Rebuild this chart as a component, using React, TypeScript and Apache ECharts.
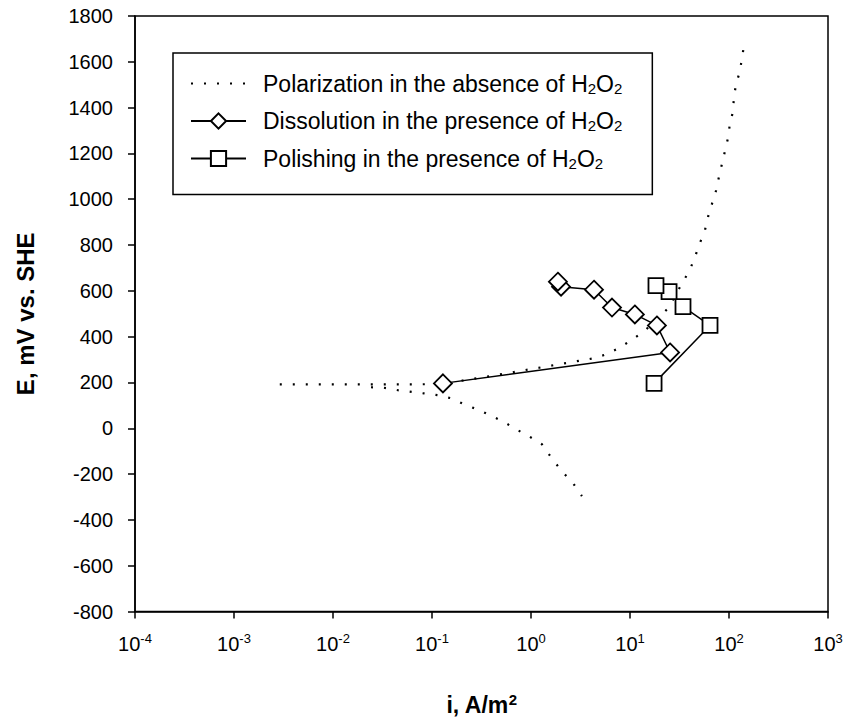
import React, { useEffect, useRef } from "react";
import * as echarts from "echarts";

// Dotted polarization curve, anodic branch (i in A/m2, E in mV vs. SHE)
const polarAnodic: [number, number][] = [
  [0.0029, 192], [0.0096, 192], [0.032, 192], [0.079, 192], [0.129, 194],
  [0.486, 235], [4.23, 305], [5.72, 322], [7.57, 348], [10.2, 383], [14.2, 427],
  [24.2, 523], [34.3, 640], [40.3, 692], [45.4, 749], [51, 810], [57.3, 867],
  [61.4, 923], [67.3, 980], [73.9, 1037], [79.2, 1098], [84.9, 1154], [91.1, 1211],
  [97.7, 1267], [102, 1328], [110, 1385], [112, 1446], [118, 1503], [129, 1559],
  [135, 1616], [142, 1672],
];
// Dotted polarization curve, cathodic branch
const polarCathodic: [number, number][] = [
  [0.0242, 179], [0.0327, 177], [0.0454, 166], [0.083, 152], [0.115, 144],
  [0.156, 131], [0.21, 105], [0.285, 83], [0.385, 57], [0.521, 30], [0.705, -4],
  [0.955, -35], [1.29, -70], [1.59, -126], [2.01, -183], [2.66, -240], [3.27, -296],
];
// Dissolution in the presence of H2O2 (diamonds)
const dissolution: [number, number][] = [
  [0.129, 196], [25.4, 331], [18.7, 449], [11.2, 497], [6.58, 527],
  [4.33, 605], [2.01, 618], [1.87, 640],
];
// Polishing in the presence of H2O2 (squares)
const polishing: [number, number][] = [
  [17.5, 196], [64.3, 449], [34.3, 531], [24.8, 597], [18.3, 623],
];

const yMin = -800;
const yMax = 1800;
const yStep = 200;
const xMin = 1e-4;
const xMax = 1e3;

const NAME_POL = "Polarization in the absence of H2O2";
const NAME_DIS = "Dissolution in the presence of H2O2";
const NAME_POLI = "Polishing in the presence of H2O2";

const legendLabels: Record<string, string> = {
  [NAME_POL]: "{t|Polarization in the absence of H}{s|2}{t|O}{s|2}",
  [NAME_DIS]: "{t|Dissolution in the presence of H}{s|2}{t|O}{s|2}",
  [NAME_POLI]: "{t|Polishing in the presence of H}{s|2}{t|O}{s|2}",
};

const FONT = "'Liberation Sans', Arial, Helvetica, sans-serif";

export default function App() {
  const ref = useRef<HTMLDivElement>(null);
  useEffect(() => {
    if (!ref.current) return;
    const chart = echarts.init(ref.current, undefined, { renderer: "svg" });
    const dotted = {
      color: "#000",
      width: 2.2,
      type: [2, 11] as number[],
      cap: "butt" as const,
    };
    const hiddenSymbol = {
      color: "rgba(0,0,0,0)",
      borderColor: "rgba(0,0,0,0)",
      borderWidth: 0,
    };
    chart.setOption({
      animation: false,
      backgroundColor: "#fff",
      textStyle: { fontFamily: FONT, color: "#000" },
      grid: {
        left: 135,
        right: 21,
        top: 16,
        bottom: 108,
        show: true,
        borderColor: "#000",
        borderWidth: 1.5,
        backgroundColor: "transparent",
      },
      legend: {
        orient: "vertical",
        left: 173,
        top: 53,
        itemWidth: 55,
        itemHeight: 19,
        itemGap: 14,
        padding: [19, 30, 24, 17],
        borderColor: "#000",
        borderWidth: 1.5,
        backgroundColor: "#fff",
        data: [NAME_POL, NAME_DIS, NAME_POLI],
        formatter: (name: string) => legendLabels[name] || name,
        textStyle: {
          fontFamily: FONT,
          color: "#000",
          padding: [0, 0, 0, 12],
          rich: {
            t: { fontSize: 23, lineHeight: 24, fontFamily: FONT, color: "#000" },
            s: {
              fontSize: 15,
              lineHeight: 14,
              verticalAlign: "bottom",
              fontFamily: FONT,
              color: "#000",
            },
          },
        },
      },
      xAxis: {
        type: "log",
        logBase: 10,
        min: xMin,
        max: xMax,
        name: "{a|i, A/m}{s|2}",
        nameLocation: "middle",
        nameGap: 80,
        nameTextStyle: {
          rich: {
            a: { fontSize: 23, fontWeight: "bold", lineHeight: 26, fontFamily: FONT, color: "#000" },
            s: {
              fontSize: 15,
              fontWeight: "bold",
              lineHeight: 15,
              verticalAlign: "top",
              fontFamily: FONT,
              color: "#000",
            },
          },
        },
        axisLine: { onZero: false, lineStyle: { color: "#000", width: 1.5 } },
        axisTick: { show: true, inside: false, length: 7, lineStyle: { color: "#000", width: 1.5 } },
        minorTick: { show: false },
        splitLine: { show: false },
        axisLabel: {
          margin: 20,
          formatter: (v: number) => `{b|10}{p|${Math.round(Math.log10(v))}}`,
          rich: {
            b: { fontSize: 20, lineHeight: 24, fontFamily: FONT, color: "#000" },
            p: { fontSize: 13, lineHeight: 16, verticalAlign: "top", fontFamily: FONT, color: "#000" },
          },
        },
      },
      yAxis: {
        type: "value",
        min: yMin,
        max: yMax,
        interval: yStep,
        name: "E, mV vs. SHE",
        nameLocation: "middle",
        nameGap: 98,
        nameRotate: 90,
        nameTextStyle: { fontSize: 24, fontWeight: "bold", fontFamily: FONT, color: "#000" },
        axisLine: { show: true, onZero: false, lineStyle: { color: "#000", width: 1.5 } },
        axisTick: { show: true, inside: false, length: 7, lineStyle: { color: "#000", width: 1.5 } },
        splitLine: { show: false },
        axisLabel: {
          margin: 22,
          fontSize: 20,
          fontFamily: FONT,
          color: "#000",
          formatter: (v: number) => String(v),
        },
      },
      series: [
        {
          name: NAME_POL,
          type: "line",
          data: polarAnodic,
          symbol: "circle",
          showSymbol: false,
          lineStyle: dotted,
          itemStyle: hiddenSymbol,
          z: 1,
        },
        {
          name: NAME_POL,
          type: "line",
          data: polarCathodic,
          symbol: "circle",
          showSymbol: false,
          lineStyle: dotted,
          itemStyle: hiddenSymbol,
          z: 1,
        },
        {
          name: NAME_DIS,
          type: "line",
          data: dissolution,
          symbol: "diamond",
          symbolSize: 18,
          lineStyle: { color: "#000", width: 1.5 },
          itemStyle: { color: "#fff", borderColor: "#000", borderWidth: 1.8 },
          z: 3,
        },
        {
          name: NAME_POLI,
          type: "line",
          data: polishing,
          symbol: "rect",
          symbolSize: 15,
          lineStyle: { color: "#000", width: 1.5 },
          itemStyle: { color: "#fff", borderColor: "#000", borderWidth: 1.8 },
          z: 3,
        },
      ],
    });
    return () => chart.dispose();
  }, []);
  return (
    <div
      ref={ref}
      style={{ position: "absolute", left: 0, top: 0, width: 849, height: 721 }}
    />
  );
}
